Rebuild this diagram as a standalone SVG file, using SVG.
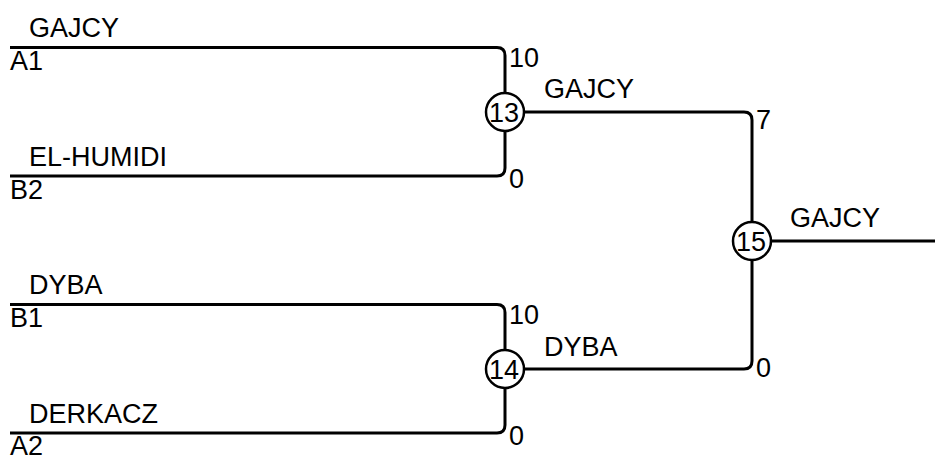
<svg xmlns="http://www.w3.org/2000/svg" width="935" height="459" viewBox="0 0 935 459">
<style>
text{font-family:"Liberation Sans",Arial,sans-serif;font-size:27px;fill:#000}
.c{text-anchor:middle}
.ln{fill:none;stroke:#000;stroke-width:3}
circle{fill:#fff;stroke:#000;stroke-width:2.5}
</style>
<rect width="935" height="459" fill="#fff"/>
<g id="connectors">
<path class="ln" d="M10,47.5 H497 Q505,47.5 505,55.5 V92"/>
<path class="ln" d="M10,176 H497 Q505,176 505,168 V131"/>
<path class="ln" d="M10,304.5 H497 Q505,304.5 505,312.5 V350"/>
<path class="ln" d="M10,433 H497 Q505,433 505,425 V388"/>
<path class="ln" d="M524,112 H744 Q752,112 752,120 V222"/>
<path class="ln" d="M524,369 H744 Q752,369 752,361 V260"/>
<path class="ln" d="M771,241 H935"/>
</g>
<g id="e1"><text x="29" y="37">GAJCY</text><text x="10" y="70">A1</text></g>
<g id="e2"><text x="29" y="166">EL-HUMIDI</text><text x="10" y="199">B2</text></g>
<g id="e3"><text x="29" y="294">DYBA</text><text x="10" y="327">B1</text></g>
<g id="e4"><text x="29" y="423">DERKACZ</text><text x="10" y="455">A2</text></g>
<g id="n13"><circle cx="505" cy="112" r="19"/><text class="c" x="504" y="122">13</text><text x="509" y="67">10</text><text x="509" y="188">0</text><text x="544" y="98">GAJCY</text></g>
<g id="n14"><circle cx="505" cy="369" r="19"/><text class="c" x="504" y="379">14</text><text x="509" y="324">10</text><text x="509" y="445">0</text><text x="544" y="356">DYBA</text></g>
<g id="n15"><circle cx="752" cy="241" r="19"/><text class="c" x="751" y="251">15</text><text x="756" y="129">7</text><text x="756" y="377">0</text><text x="790" y="227">GAJCY</text></g>
</svg>
